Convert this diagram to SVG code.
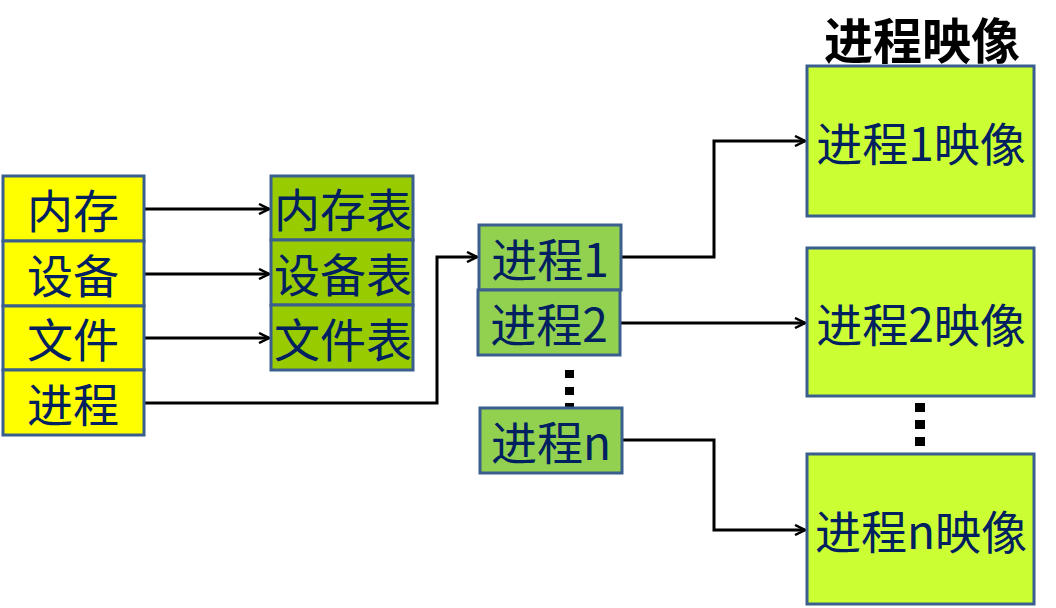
<svg xmlns="http://www.w3.org/2000/svg" width="1056" height="608" viewBox="0 0 1056 608">
<defs>
<style>
.box{stroke:#3A5F8F;stroke-width:3}
.y{fill:#FFFF00}
.g{fill:#99CC00}
.p{fill:#92D050}
.i{fill:#CCFF33}
.t{font-family:"Noto Sans CJK SC","Noto Sans",sans-serif;font-size:46px;fill:#002060;text-anchor:middle;dominant-baseline:central}
.c{fill:none;stroke:#000;stroke-width:3}
.dot{fill:#000}
</style>
<marker id="a" viewBox="0 0 12 12" refX="11" refY="6" markerWidth="12" markerHeight="12" markerUnits="userSpaceOnUse" orient="auto">
<path d="M1,1 L11,6 L1,11" fill="none" stroke="#000" stroke-width="2.5"/>
</marker>
</defs>
<rect width="1056" height="608" fill="#fff"/>
<g id="title"><text x="922" y="37" style="font-family:'Noto Sans CJK SC',sans-serif;font-size:49px;font-weight:bold;fill:#000;text-anchor:middle;dominant-baseline:central">进程映像</text></g>
<g id="connectors">
<path class="c" d="M144,209 H269" marker-end="url(#a)"/>
<path class="c" d="M144,274 H269" marker-end="url(#a)"/>
<path class="c" d="M144,338 H269" marker-end="url(#a)"/>
<path class="c" d="M144,403 H437 V257 H477" marker-end="url(#a)"/>
<path class="c" d="M621,257 H714 V141 H805" marker-end="url(#a)"/>
<path class="c" d="M620,323 H805" marker-end="url(#a)"/>
<path class="c" d="M622,440 H714 V530 H805" marker-end="url(#a)"/>
</g>
<g id="mem"><rect class="box y" x="3" y="176" width="141" height="65"/><text class="t" x="73" y="208">内存</text></g>
<g id="dev"><rect class="box y" x="3" y="241" width="141" height="65"/><text class="t" x="73" y="273">设备</text></g>
<g id="file"><rect class="box y" x="3" y="306" width="141" height="64"/><text class="t" x="73" y="337">文件</text></g>
<g id="proc"><rect class="box y" x="3" y="370" width="141" height="65"/><text class="t" x="73" y="402">进程</text></g>
<g id="memtab"><rect class="box g" x="271" y="176" width="142" height="64"/><text class="t" x="343" y="207">内存表</text></g>
<g id="devtab"><rect class="box g" x="271" y="240" width="142" height="65"/><text class="t" x="343" y="272">设备表</text></g>
<g id="filetab"><rect class="box g" x="271" y="305" width="142" height="65"/><text class="t" x="343" y="337">文件表</text></g>
<g id="dots1"><rect class="dot" x="565" y="370" width="9" height="8"/><rect class="dot" x="565" y="387" width="9" height="8"/><rect class="dot" x="565" y="403" width="9" height="5"/></g>
<g id="p1"><rect class="box p" x="479" y="225" width="142" height="65"/><text class="t" x="550" y="257">进程1</text></g>
<g id="p2"><rect class="box p" x="478" y="290" width="142" height="65"/><text class="t" x="549" y="322">进程2</text></g>
<g id="pn"><rect class="box p" x="480" y="408" width="142" height="65"/><text class="t" x="551" y="440">进程n</text></g>
<g id="img1"><rect class="box i" x="807" y="66" width="227" height="150"/><text class="t" x="921" y="141">进程1映像</text></g>
<g id="img2"><rect class="box i" x="807" y="248" width="227" height="148"/><text class="t" x="921" y="322">进程2映像</text></g>
<g id="dots2"><rect class="dot" x="915" y="403" width="10" height="9"/><rect class="dot" x="915" y="420" width="10" height="9"/><rect class="dot" x="915" y="437" width="10" height="9"/></g>
<g id="imgn"><rect class="box i" x="807" y="454" width="227" height="150"/><text class="t" x="921" y="529">进程n映像</text></g>
</svg>
